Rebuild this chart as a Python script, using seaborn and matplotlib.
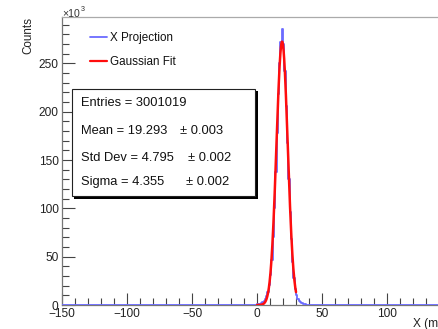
import numpy as np
import pandas as pd
import matplotlib
matplotlib.use("Agg")
import matplotlib.pyplot as plt
from matplotlib.lines import Line2D
from matplotlib.patches import Rectangle
from matplotlib.ticker import MultipleLocator
import seaborn as sns

# X projection: bin width 1 mm over [-150, 150); counts in units of 10^3
x_min, x_max, bin_width = -150, 150, 1
first_filled_bin = -4
filled_counts = [
    0.1, 0.2, 0.3, 0.4,
    0.6, 0.9, 1.3, 1.9, 2.8, 4.1, 6.0, 9.0, 13.5, 20.5,
    31.0, 47.0, 70.0, 100.0, 138.0, 178.0, 218.0, 250.0, 272.0, 286.0,
    270.0, 242.0, 206.0, 168.0, 130.0, 96.0, 68.0, 45.0, 28.0, 17.0,
    10.0, 6.5, 4.3, 3.0, 2.1, 1.5, 1.1, 0.8, 0.5, 0.3,
    0.2, 0.1,
]

# Gaussian fit result
fit_constant = 272.5
fit_mean = 19.30
fit_sigma = 4.355
fit_range = (0.0, 30.0)

stats_lines = [
    ("Entries = 3001019", None),
    ("Mean = 19.293", "\u00b1 0.003"),
    ("Std Dev = 4.795", "\u00b1 0.002"),
    ("Sigma = 4.355", "\u00b1 0.002"),
]
legend_labels = ["X Projection", "Gaussian Fit"]
x_ticks = [-150, -100, -50, 0, 50, 100]
y_ticks = [0, 50, 100, 150, 200, 250]

# ---- build histogram table ----
edges = np.arange(x_min, x_max + bin_width, bin_width)
centers = edges[:-1] + bin_width / 2
weights = np.zeros(len(centers))
start = first_filled_bin - x_min
weights[start:start + len(filled_counts)] = filled_counts
hist_df = pd.DataFrame({"x": centers, "w": weights})

xf = np.linspace(fit_range[0], fit_range[1], 400)
fit_df = pd.DataFrame({
    "x": xf,
    "y": fit_constant * np.exp(-0.5 * ((xf - fit_mean) / fit_sigma) ** 2),
})

sns.set_style("white")
plt.rcParams["font.family"] = ["Liberation Sans", "DejaVu Sans"]

W, H = 439, 329
fig = plt.figure(figsize=(W / 100, H / 100), dpi=100)
ax = fig.add_axes([62 / W, 24 / H, 390 / W, 288 / H])

blue = "#6b6bff"
red = "#ff0d0d"

sns.histplot(data=hist_df, x="x", weights="w", binwidth=bin_width,
             binrange=(x_min, x_max), element="step", fill=False,
             color=blue, linewidth=1.3, ax=ax, zorder=3)
sns.lineplot(data=fit_df, x="x", y="y", color=red, linewidth=1.8, ax=ax,
             zorder=4)

ax.set_xlim(x_min, x_max)
ax.set_ylim(0, 298)
ax.set_xticks(x_ticks)
ax.set_yticks(y_ticks)
ax.set_xticklabels([f"{t}".replace("-", "\u2212") for t in x_ticks])
ax.xaxis.set_minor_locator(MultipleLocator(10))
ax.yaxis.set_minor_locator(MultipleLocator(10))
ax.tick_params(which="both", direction="in", colors="#444444", width=0.8,
               labelsize=8.6, labelcolor="#222222", pad=2.5)
ax.tick_params(which="major", length=9)
ax.tick_params(which="minor", length=5)
ax.tick_params(axis="x", which="both", top=False, bottom=True)
ax.tick_params(axis="y", which="both", left=True, right=False)

for side, sp in ax.spines.items():
    sp.set_linewidth(0.9)
    sp.set_color("#777777")
ax.spines["top"].set_color("#aaaaaa")

ax.set_xlabel("X (mm)", loc="right", fontsize=8.6, color="#222222")
ax.xaxis.set_label_coords(1.0, -0.045)
ax.set_ylabel("Counts", loc="top", fontsize=8.4, color="#222222")
ax.yaxis.set_label_coords(-0.072, 1.0)

# exponent marker for the y axis
fig.text(62 / W, 1 - 17 / H, "\u00d710", fontsize=7.6, color="#333333",
         ha="left", va="baseline")
fig.text(80.5 / W, 1 - 11 / H, "3", fontsize=5.2, color="#333333",
         ha="left", va="baseline")

# legend without frame
handles = [Line2D([], [], color=blue, lw=1.3), Line2D([], [], color=red, lw=1.6)]
leg = ax.legend(handles, legend_labels, loc="upper left", frameon=False,
                bbox_to_anchor=((90 - 62) / 390, (305 - 32) / 288),
                fontsize=8.4, handlelength=1.45, handletextpad=0.3,
                labelspacing=1.03, borderaxespad=0, borderpad=0)
for t in leg.get_texts():
    t.set_color("#111111")

# statistics box with drop shadow
bx0, by0, bx1, by1 = 72, 89, 255, 196
sh = Rectangle(((bx0 + 2.5) / W, 1 - (by1 + 2.5) / H), (bx1 - bx0) / W,
               (by1 - by0) / H, transform=fig.transFigure, facecolor="black",
               edgecolor="black", lw=0, zorder=5)
box = Rectangle((bx0 / W, 1 - by1 / H), (bx1 - bx0) / W, (by1 - by0) / H,
                transform=fig.transFigure, facecolor="white",
                edgecolor="#222222", lw=0.8, zorder=6)
fig.add_artist(sh)
fig.add_artist(box)

line_y = [103.3, 130.7, 157.7, 181.7]
err_x = [None, 180.0, 187.7, 186.0]
for (name, err), yy, ex in zip(stats_lines, line_y, err_x):
    fig.text(80.7 / W, 1 - yy / H, name, fontsize=9.3, color="#111111",
             ha="left", va="center", zorder=7)
    if err is not None:
        fig.text(ex / W, 1 - yy / H, err, fontsize=9.3, color="#111111",
                 ha="left", va="center", zorder=7)

fig.savefig("out.png", dpi=100)
